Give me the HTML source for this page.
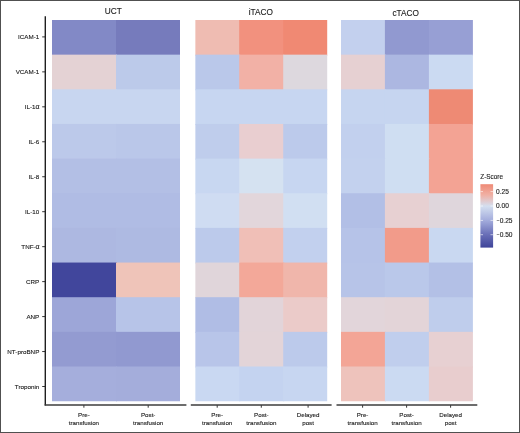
<!DOCTYPE html>
<html lang="en"><head><meta charset="utf-8"><title>Z-Score heatmap</title>
<style>html,body{margin:0;padding:0;background:#fff}body{width:520px;height:433px;overflow:hidden}svg{display:block;will-change:transform;opacity:0.999}text{font-family:"Liberation Sans",Arial,Helvetica,sans-serif;fill:#1c1c1c;stroke:#1c1c1c;stroke-width:0.12px}.t{font-size:8.25px;fill:#1a1a1a}.l{font-size:6.4px}.y{font-size:6.25px}.x{font-size:6.2px}.k{font-size:6.6px}.a{font-size:7px}</style></head><body>
<svg width="520" height="433" viewBox="0 0 520 433">
<defs><linearGradient id="g" x1="0" y1="0" x2="0" y2="1"><stop offset="0" stop-color="#ef8a76"/><stop offset="0.17" stop-color="#f0b0a4"/><stop offset="0.346" stop-color="#d4dff0"/><stop offset="0.57" stop-color="#a3acdc"/><stop offset="0.79" stop-color="#6a70b8"/><stop offset="1" stop-color="#3f4499"/></linearGradient></defs>
<rect x="0" y="0" width="520" height="433" fill="#fff"/>
<rect x="0.5" y="0.5" width="519" height="432" fill="none" stroke="#505050" stroke-width="1"/>
<clipPath id="cUCT"><rect x="52.00" y="20.00" width="128.00" height="381.15"/></clipPath><g clip-path="url(#cUCT)">
<rect x="52.00" y="20.00" width="65.00" height="35.65" fill="#8289c6"/>
<rect x="116.00" y="20.00" width="65.00" height="35.65" fill="#767bbc"/>
<rect x="52.00" y="54.65" width="65.00" height="35.65" fill="#e4d2d4"/>
<rect x="116.00" y="54.65" width="65.00" height="35.65" fill="#bccaea"/>
<rect x="52.00" y="89.30" width="65.00" height="35.65" fill="#c8d6f0"/>
<rect x="116.00" y="89.30" width="65.00" height="35.65" fill="#c8d6f0"/>
<rect x="52.00" y="123.95" width="65.00" height="35.65" fill="#bcc9ea"/>
<rect x="116.00" y="123.95" width="65.00" height="35.65" fill="#bac7e9"/>
<rect x="52.00" y="158.60" width="65.00" height="35.65" fill="#b3bfe5"/>
<rect x="116.00" y="158.60" width="65.00" height="35.65" fill="#b3bfe5"/>
<rect x="52.00" y="193.25" width="65.00" height="35.65" fill="#b0bce4"/>
<rect x="116.00" y="193.25" width="65.00" height="35.65" fill="#b0bce4"/>
<rect x="52.00" y="227.90" width="65.00" height="35.65" fill="#adb8e1"/>
<rect x="116.00" y="227.90" width="65.00" height="35.65" fill="#aebae2"/>
<rect x="52.00" y="262.55" width="65.00" height="35.65" fill="#41469c"/>
<rect x="116.00" y="262.55" width="65.00" height="35.65" fill="#efc4b9"/>
<rect x="52.00" y="297.20" width="65.00" height="35.65" fill="#9da6d8"/>
<rect x="116.00" y="297.20" width="65.00" height="35.65" fill="#b7c4e8"/>
<rect x="52.00" y="331.85" width="65.00" height="35.65" fill="#939bd1"/>
<rect x="116.00" y="331.85" width="65.00" height="35.65" fill="#9199d0"/>
<rect x="52.00" y="366.50" width="65.00" height="35.65" fill="#a5aedc"/>
<rect x="116.00" y="366.50" width="65.00" height="35.65" fill="#a4addb"/>
</g>
<text class="t" x="113.3" y="14.4" text-anchor="middle">UCT</text>
<clipPath id="ciTACO"><rect x="195.20" y="20.00" width="132.00" height="381.15"/></clipPath><g clip-path="url(#ciTACO)">
<rect x="195.20" y="20.00" width="45.00" height="35.65" fill="#efbcb2"/>
<rect x="239.20" y="20.00" width="45.00" height="35.65" fill="#f2917e"/>
<rect x="283.20" y="20.00" width="45.00" height="35.65" fill="#f08973"/>
<rect x="195.20" y="54.65" width="45.00" height="35.65" fill="#bac8ea"/>
<rect x="239.20" y="54.65" width="45.00" height="35.65" fill="#f2b1a6"/>
<rect x="283.20" y="54.65" width="45.00" height="35.65" fill="#ddd8de"/>
<rect x="195.20" y="89.30" width="45.00" height="35.65" fill="#c7d6f1"/>
<rect x="239.20" y="89.30" width="45.00" height="35.65" fill="#c7d6f1"/>
<rect x="283.20" y="89.30" width="45.00" height="35.65" fill="#c7d6f1"/>
<rect x="195.20" y="123.95" width="45.00" height="35.65" fill="#bfcdec"/>
<rect x="239.20" y="123.95" width="45.00" height="35.65" fill="#e9ced0"/>
<rect x="283.20" y="123.95" width="45.00" height="35.65" fill="#bccaeb"/>
<rect x="195.20" y="158.60" width="45.00" height="35.65" fill="#c8d7f1"/>
<rect x="239.20" y="158.60" width="45.00" height="35.65" fill="#d5e2f1"/>
<rect x="283.20" y="158.60" width="45.00" height="35.65" fill="#c7d6f1"/>
<rect x="195.20" y="193.25" width="45.00" height="35.65" fill="#cfdcf2"/>
<rect x="239.20" y="193.25" width="45.00" height="35.65" fill="#e2d6db"/>
<rect x="283.20" y="193.25" width="45.00" height="35.65" fill="#d1dff2"/>
<rect x="195.20" y="227.90" width="45.00" height="35.65" fill="#bccaeb"/>
<rect x="239.20" y="227.90" width="45.00" height="35.65" fill="#f0bfb7"/>
<rect x="283.20" y="227.90" width="45.00" height="35.65" fill="#c2d0ee"/>
<rect x="195.20" y="262.55" width="45.00" height="35.65" fill="#e0d5da"/>
<rect x="239.20" y="262.55" width="45.00" height="35.65" fill="#f3a899"/>
<rect x="283.20" y="262.55" width="45.00" height="35.65" fill="#f0b6ab"/>
<rect x="195.20" y="297.20" width="45.00" height="35.65" fill="#b0bde5"/>
<rect x="239.20" y="297.20" width="45.00" height="35.65" fill="#e2d4d9"/>
<rect x="283.20" y="297.20" width="45.00" height="35.65" fill="#ebcbc9"/>
<rect x="195.20" y="331.85" width="45.00" height="35.65" fill="#b8c5e9"/>
<rect x="239.20" y="331.85" width="45.00" height="35.65" fill="#e3d4d8"/>
<rect x="283.20" y="331.85" width="45.00" height="35.65" fill="#bccaeb"/>
<rect x="195.20" y="366.50" width="45.00" height="35.65" fill="#c9d8f2"/>
<rect x="239.20" y="366.50" width="45.00" height="35.65" fill="#c4d3f0"/>
<rect x="283.20" y="366.50" width="45.00" height="35.65" fill="#c7d6f1"/>
</g>
<text class="t" x="260.8" y="15.3" text-anchor="middle">iTACO</text>
<clipPath id="ccTACO"><rect x="340.90" y="20.00" width="132.00" height="381.15"/></clipPath><g clip-path="url(#ccTACO)">
<rect x="340.90" y="20.00" width="45.00" height="35.65" fill="#c3d0ee"/>
<rect x="384.90" y="20.00" width="45.00" height="35.65" fill="#9199d0"/>
<rect x="428.90" y="20.00" width="45.00" height="35.65" fill="#979fd4"/>
<rect x="340.90" y="54.65" width="45.00" height="35.65" fill="#e6d0d2"/>
<rect x="384.90" y="54.65" width="45.00" height="35.65" fill="#acb7e1"/>
<rect x="428.90" y="54.65" width="45.00" height="35.65" fill="#cbdaf2"/>
<rect x="340.90" y="89.30" width="45.00" height="35.65" fill="#c6d5f0"/>
<rect x="384.90" y="89.30" width="45.00" height="35.65" fill="#c6d5f0"/>
<rect x="428.90" y="89.30" width="45.00" height="35.65" fill="#ee8a74"/>
<rect x="340.90" y="123.95" width="45.00" height="35.65" fill="#c2d0ee"/>
<rect x="384.90" y="123.95" width="45.00" height="35.65" fill="#cfdef2"/>
<rect x="428.90" y="123.95" width="45.00" height="35.65" fill="#f3a394"/>
<rect x="340.90" y="158.60" width="45.00" height="35.65" fill="#c3d1ee"/>
<rect x="384.90" y="158.60" width="45.00" height="35.65" fill="#cfdef2"/>
<rect x="428.90" y="158.60" width="45.00" height="35.65" fill="#f3a394"/>
<rect x="340.90" y="193.25" width="45.00" height="35.65" fill="#b2bfe6"/>
<rect x="384.90" y="193.25" width="45.00" height="35.65" fill="#e7d0d2"/>
<rect x="428.90" y="193.25" width="45.00" height="35.65" fill="#dfd6dc"/>
<rect x="340.90" y="227.90" width="45.00" height="35.65" fill="#b6c3e8"/>
<rect x="384.90" y="227.90" width="45.00" height="35.65" fill="#f29b8a"/>
<rect x="428.90" y="227.90" width="45.00" height="35.65" fill="#c9d8f1"/>
<rect x="340.90" y="262.55" width="45.00" height="35.65" fill="#b7c4e8"/>
<rect x="384.90" y="262.55" width="45.00" height="35.65" fill="#bac8ea"/>
<rect x="428.90" y="262.55" width="45.00" height="35.65" fill="#b3c0e6"/>
<rect x="340.90" y="297.20" width="45.00" height="35.65" fill="#e2d5da"/>
<rect x="384.90" y="297.20" width="45.00" height="35.65" fill="#e3d4d8"/>
<rect x="428.90" y="297.20" width="45.00" height="35.65" fill="#bfcdec"/>
<rect x="340.90" y="331.85" width="45.00" height="35.65" fill="#f3a596"/>
<rect x="384.90" y="331.85" width="45.00" height="35.65" fill="#c0ceed"/>
<rect x="428.90" y="331.85" width="45.00" height="35.65" fill="#e7d0d2"/>
<rect x="340.90" y="366.50" width="45.00" height="35.65" fill="#eec3bc"/>
<rect x="384.90" y="366.50" width="45.00" height="35.65" fill="#cbdaf2"/>
<rect x="428.90" y="366.50" width="45.00" height="35.65" fill="#e8cdce"/>
</g>
<text class="t" x="405.7" y="15.6" text-anchor="middle">cTACO</text>
<line x1="45.3" y1="16.3" x2="45.3" y2="405.6" stroke="#1f1f1f" stroke-width="1.4"/>
<line x1="42.2" y1="36.90" x2="45" y2="36.90" stroke="#1f1f1f" stroke-width="0.9"/>
<text class="y" x="39.3" y="39.10" text-anchor="end">ICAM-1</text>
<line x1="42.2" y1="71.86" x2="45" y2="71.86" stroke="#1f1f1f" stroke-width="0.9"/>
<text class="y" x="39.3" y="74.06" text-anchor="end">VCAM-1</text>
<line x1="42.2" y1="106.82" x2="45" y2="106.82" stroke="#1f1f1f" stroke-width="0.9"/>
<text class="y" x="39.6" y="109.02" text-anchor="end">IL-1<tspan class="a">α</tspan></text>
<line x1="42.2" y1="141.78" x2="45" y2="141.78" stroke="#1f1f1f" stroke-width="0.9"/>
<text class="y" x="39.3" y="143.98" text-anchor="end">IL-6</text>
<line x1="42.2" y1="176.74" x2="45" y2="176.74" stroke="#1f1f1f" stroke-width="0.9"/>
<text class="y" x="39.3" y="178.94" text-anchor="end">IL-8</text>
<line x1="42.2" y1="211.70" x2="45" y2="211.70" stroke="#1f1f1f" stroke-width="0.9"/>
<text class="y" x="39.3" y="213.90" text-anchor="end">IL-10</text>
<line x1="42.2" y1="246.66" x2="45" y2="246.66" stroke="#1f1f1f" stroke-width="0.9"/>
<text class="y" x="39.6" y="248.86" text-anchor="end">TNF-<tspan class="a">α</tspan></text>
<line x1="42.2" y1="281.62" x2="45" y2="281.62" stroke="#1f1f1f" stroke-width="0.9"/>
<text class="y" x="39.3" y="283.82" text-anchor="end">CRP</text>
<line x1="42.2" y1="316.58" x2="45" y2="316.58" stroke="#1f1f1f" stroke-width="0.9"/>
<text class="y" x="39.3" y="318.78" text-anchor="end">ANP</text>
<line x1="42.2" y1="351.54" x2="45" y2="351.54" stroke="#1f1f1f" stroke-width="0.9"/>
<text class="y" x="39.3" y="353.74" text-anchor="end">NT-proBNP</text>
<line x1="42.2" y1="386.50" x2="45" y2="386.50" stroke="#1f1f1f" stroke-width="0.9"/>
<text class="y" x="39.3" y="388.70" text-anchor="end">Troponin</text>
<line x1="44.65" y1="404.9" x2="186.40" y2="404.9" stroke="#3c3c3c" stroke-width="1.5"/>
<line x1="83.90" y1="405.3" x2="83.90" y2="407.7" stroke="#1f1f1f" stroke-width="0.9"/>
<text class="x" text-anchor="middle"><tspan x="83.90" y="416.5">Pre-</tspan><tspan x="83.90" y="424.5">transfusion</tspan></text>
<line x1="148.20" y1="405.3" x2="148.20" y2="407.7" stroke="#1f1f1f" stroke-width="0.9"/>
<text class="x" text-anchor="middle"><tspan x="148.20" y="416.5">Post-</tspan><tspan x="148.20" y="424.5">transfusion</tspan></text>
<line x1="190.80" y1="404.9" x2="331.60" y2="404.9" stroke="#3c3c3c" stroke-width="1.5"/>
<line x1="217.20" y1="405.3" x2="217.20" y2="407.7" stroke="#1f1f1f" stroke-width="0.9"/>
<text class="x" text-anchor="middle"><tspan x="217.20" y="416.5">Pre-</tspan><tspan x="217.20" y="424.5">transfusion</tspan></text>
<line x1="261.30" y1="405.3" x2="261.30" y2="407.7" stroke="#1f1f1f" stroke-width="0.9"/>
<text class="x" text-anchor="middle"><tspan x="261.30" y="416.5">Post-</tspan><tspan x="261.30" y="424.5">transfusion</tspan></text>
<line x1="308.10" y1="405.3" x2="308.10" y2="407.7" stroke="#1f1f1f" stroke-width="0.9"/>
<text class="x" text-anchor="middle"><tspan x="308.10" y="416.5">Delayed</tspan><tspan x="308.10" y="424.5">post</tspan></text>
<line x1="336.50" y1="404.9" x2="477.30" y2="404.9" stroke="#3c3c3c" stroke-width="1.5"/>
<line x1="362.60" y1="405.3" x2="362.60" y2="407.7" stroke="#1f1f1f" stroke-width="0.9"/>
<text class="x" text-anchor="middle"><tspan x="362.60" y="416.5">Pre-</tspan><tspan x="362.60" y="424.5">transfusion</tspan></text>
<line x1="406.60" y1="405.3" x2="406.60" y2="407.7" stroke="#1f1f1f" stroke-width="0.9"/>
<text class="x" text-anchor="middle"><tspan x="406.60" y="416.5">Post-</tspan><tspan x="406.60" y="424.5">transfusion</tspan></text>
<line x1="450.60" y1="405.3" x2="450.60" y2="407.7" stroke="#1f1f1f" stroke-width="0.9"/>
<text class="x" text-anchor="middle"><tspan x="450.60" y="416.5">Delayed</tspan><tspan x="450.60" y="424.5">post</tspan></text>
<text class="l" x="480.3" y="179.2">Z-Score</text>
<rect x="480.4" y="184.2" width="12.7" height="63.4" fill="url(#g)"/>
<line x1="480.5" y1="191.6" x2="483" y2="191.6" stroke="#fff" stroke-width="0.6"/>
<line x1="490.5" y1="191.6" x2="493" y2="191.6" stroke="#fff" stroke-width="0.6"/>
<text class="k" x="496.1" y="194.0">0.25</text>
<line x1="480.5" y1="206.0" x2="483" y2="206.0" stroke="#fff" stroke-width="0.6"/>
<line x1="490.5" y1="206.0" x2="493" y2="206.0" stroke="#fff" stroke-width="0.6"/>
<text class="k" x="496.1" y="208.4">0.00</text>
<line x1="480.5" y1="220.4" x2="483" y2="220.4" stroke="#fff" stroke-width="0.6"/>
<line x1="490.5" y1="220.4" x2="493" y2="220.4" stroke="#fff" stroke-width="0.6"/>
<text class="k" y="222.8"><tspan x="496.8" textLength="2.9" lengthAdjust="spacingAndGlyphs">−</tspan><tspan x="499.7">0.25</tspan></text>
<line x1="480.5" y1="234.7" x2="483" y2="234.7" stroke="#fff" stroke-width="0.6"/>
<line x1="490.5" y1="234.7" x2="493" y2="234.7" stroke="#fff" stroke-width="0.6"/>
<text class="k" y="237.1"><tspan x="496.8" textLength="2.9" lengthAdjust="spacingAndGlyphs">−</tspan><tspan x="499.7">0.50</tspan></text>
</svg></body></html>
